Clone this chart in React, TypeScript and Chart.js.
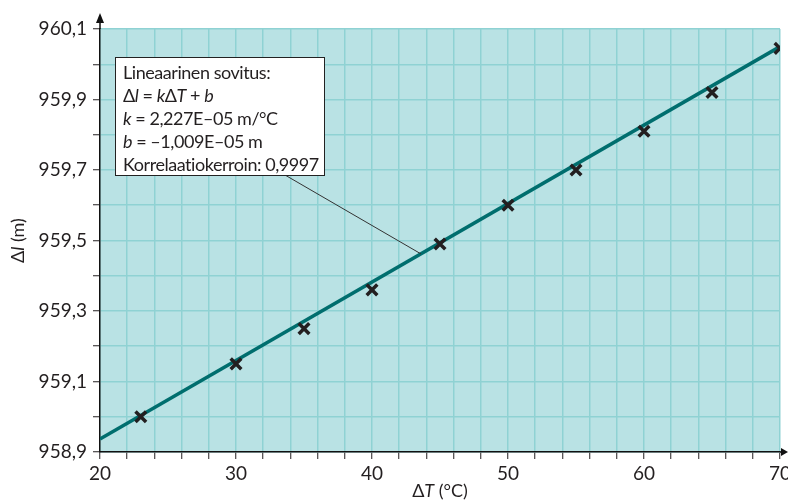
import React, { useEffect, useRef } from "react";
import { Chart, registerables } from "chart.js";

Chart.register(...registerables);

// Data
const temperatures = [23, 30, 35, 40, 45, 50, 55, 60, 65, 70];
const lengths = [959.0, 959.15, 959.25, 959.36, 959.49, 959.6, 959.7, 959.81, 959.92, 960.045];
const fitX = [20, 70];
const fitY = [958.937, 960.05];
const leaderPoint = { x: 43.6, y: 959.462 };

const xMin = 20;
const xMax = 70;
const xStep = 2;
const yMin = 958.9;
const yMax = 960.1;
const yStep = 0.1;

const boxLines: [string, boolean][][] = [
  [["Lineaarinen sovitus:", false]],
  [["Δ", false], ["l", true], [" = ", false], ["k", true], ["Δ", false], ["T", true], [" + ", false], ["b", true]],
  [["k", true], [" = 2,227E–05 m/°C", false]],
  [["b", true], [" = –1,009E–05 m", false]],
  [["Korrelaatiokerroin: 0,9997", false]],
];

const FONT = "Lato";
const BG = "#b9e2e4";
const GRID = "#8fd2d3";
const LINE = "#006e6e";

function drawRich(ctx: CanvasRenderingContext2D, segs: [string, boolean][], x: number, y: number, size: number, align: "left" | "center") {
  const fontFor = (it: boolean) => `${it ? "italic " : ""}${size}px ${FONT}`;
  let total = 0;
  for (const [t, it] of segs) {
    ctx.font = fontFor(it);
    total += ctx.measureText(t).width;
  }
  let cx = align === "center" ? x - total / 2 : x;
  ctx.textAlign = "left";
  for (const [t, it] of segs) {
    ctx.font = fontFor(it);
    ctx.fillText(t, cx, y);
    cx += ctx.measureText(t).width;
  }
}

const decorPlugin = {
  id: "decor",
  beforeDraw(chart: any) {
    const { ctx, chartArea } = chart;
    ctx.save();
    ctx.fillStyle = BG;
    ctx.fillRect(chartArea.left, chartArea.top, chartArea.right - chartArea.left, chartArea.bottom - chartArea.top);
    ctx.restore();
  },
  afterDatasetsDraw(chart: any) {
    const { ctx, chartArea, scales } = chart;
    const { left, right, top, bottom } = chartArea;
    ctx.save();
    // axes arrows
    ctx.strokeStyle = "#111";
    ctx.fillStyle = "#111";
    ctx.lineWidth = 1.5;
    ctx.beginPath();
    ctx.moveTo(left, top);
    ctx.lineTo(left, top - 8);
    ctx.moveTo(right, bottom);
    ctx.lineTo(right + 3, bottom);
    ctx.stroke();
    ctx.beginPath();
    ctx.moveTo(left, top - 16);
    ctx.lineTo(left - 4, top - 6);
    ctx.lineTo(left + 4, top - 6);
    ctx.closePath();
    ctx.fill();
    ctx.beginPath();
    ctx.moveTo(right + 8, bottom);
    ctx.lineTo(right + 1, bottom - 4);
    ctx.lineTo(right + 1, bottom + 4);
    ctx.closePath();
    ctx.fill();

    // leader line
    const bx = left + 15;
    const by = top + 28;
    const bw = 209;
    const bh = 118;
    const px = scales.x.getPixelForValue(leaderPoint.x);
    const py = scales.y.getPixelForValue(leaderPoint.y);
    ctx.strokeStyle = "#333";
    ctx.lineWidth = 1;
    ctx.beginPath();
    ctx.moveTo(bx + 170, by + bh);
    ctx.lineTo(px, py);
    ctx.stroke();

    // annotation box
    ctx.fillStyle = "#ffffff";
    ctx.fillRect(bx, by, bw, bh);
    ctx.strokeStyle = "#222";
    ctx.lineWidth = 1;
    ctx.strokeRect(bx + 0.5, by + 0.5, bw, bh);
    ctx.fillStyle = "#231f20";
    ctx.textBaseline = "alphabetic";
    (ctx as any).letterSpacing = "-0.45px";
    boxLines.forEach((segs, i) => {
      drawRich(ctx, segs, bx + 8, by + 22 + i * 23, 18, "left");
    });
    (ctx as any).letterSpacing = "0px";

    // axis titles
    ctx.fillStyle = "#231f20";
    ctx.textBaseline = "middle";
    drawRich(ctx, [["Δ", false], ["T", true], [" (°C)", false]], (left + right) / 2, 491, 18, "center");
    ctx.save();
    ctx.translate(18, (top + bottom) / 2);
    ctx.rotate(-Math.PI / 2);
    drawRich(ctx, [["Δ", false], ["l", true], [" (m)", false]], 0, 0, 18, "center");
    ctx.restore();
    ctx.restore();
  },
};

export default function App() {
  const ref = useRef<HTMLCanvasElement>(null);
  useEffect(() => {
    document.body.style.margin = "0";
    const canvas = ref.current!;
    const chart = new Chart(canvas, {
      type: "scatter",
      data: {
        datasets: [
          {
            type: "line",
            data: fitX.map((x, i) => ({ x, y: fitY[i] })),
            borderColor: LINE,
            borderWidth: 3.5,
            pointRadius: 0,
            order: 2,
          } as any,
          {
            data: temperatures.map((x, i) => ({ x, y: lengths[i] })),
            pointStyle: "crossRot",
            pointRadius: 7.5,
            borderWidth: 3.5,
            borderColor: "#231f20",
            backgroundColor: "#231f20",
            order: 1,
          },
        ],
      },
      options: {
        animation: false,
        responsive: false,
        devicePixelRatio: 1,
        layout: { autoPadding: false, padding: { top: 29, right: 8, left: 0, bottom: 0 } } as any,
        plugins: { legend: { display: false }, tooltip: { enabled: false } },
        scales: {
          x: {
            type: "linear",
            min: xMin,
            max: xMax,
            afterFit: (s: any) => {
              s.height = 50;
              s.paddingLeft = 0;
              s.paddingRight = 0;
            },
            ticks: {
              stepSize: xStep,
              autoSkip: false,
              maxRotation: 0,
              padding: 3,
              color: "#231f20",
              font: { family: FONT, size: 19 },
              callback: (v: any) => (Math.round(v) % 10 === 0 ? String(Math.round(v)) : ""),
            },
            grid: { color: GRID, lineWidth: 1.5, tickLength: 7, tickColor: "#231f20", tickWidth: 1 } as any,
            border: { color: "#111", width: 1.5 },
          },
          y: {
            type: "linear",
            min: yMin,
            max: yMax,
            afterFit: (s: any) => {
              s.width = 100;
              s.paddingTop = 0;
              s.paddingBottom = 0;
            },
            ticks: {
              stepSize: yStep,
              autoSkip: false,
              padding: 6,
              color: "#231f20",
              font: { family: FONT, size: 19 },
              callback: (v: any) => {
                const n = Math.round(v * 10);
                return n % 2 === 1 ? (n / 10).toFixed(1).replace(".", ",") : "";
              },
            },
            grid: { color: GRID, lineWidth: 1.5, tickLength: 7, tickColor: "#231f20", tickWidth: 1 } as any,
            border: { color: "#111", width: 1.5 },
          },
        },
      },
      plugins: [decorPlugin],
    });
    return () => chart.destroy();
  }, []);
  return (
    <div style={{ width: 788, height: 502, position: "relative", background: "#fff" }}>
      <canvas ref={ref} width={788} height={502} style={{ display: "block" }} />
    </div>
  );
}
